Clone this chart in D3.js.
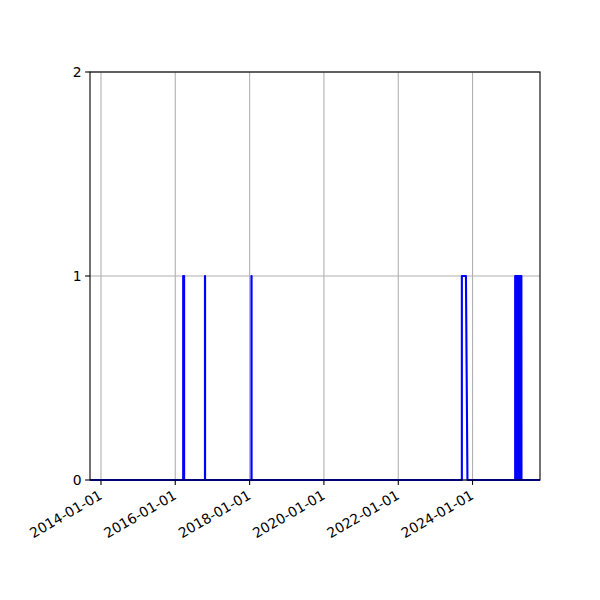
<!DOCTYPE html>
<html>
<head>
  <meta charset="utf-8">
  <script src="https://cdn.jsdelivr.net/npm/d3@7"></script>
  <style>
    body { margin: 0; background: #fff; }
    text { font-family: "DejaVu Sans", sans-serif; font-size: 13.9px; fill: #000; }
  </style>
</head>
<body>
<div id="chart"></div>
<script>
// sample times and 0/1 values
var dates = [
  "2013-09-15", "2016-03-19", "2016-03-19", "2016-03-28", "2016-03-28",
  "2016-10-19", "2016-10-19", "2016-10-20", "2016-10-20",
  "2018-01-19", "2018-01-19", "2018-01-20", "2018-01-20",
  "2023-09-18", "2023-09-18", "2023-10-28", "2023-11-12",
  "2025-02-23", "2025-02-23", "2025-02-26", "2025-03-01", "2025-03-04",
  "2025-03-07", "2025-03-10", "2025-03-13", "2025-03-16", "2025-03-19",
  "2025-03-22", "2025-03-25", "2025-03-28", "2025-03-31", "2025-04-03",
  "2025-04-06", "2025-04-09", "2025-04-12", "2025-04-15", "2025-04-18",
  "2025-04-21", "2025-04-23", "2025-04-25", "2025-04-26",
  "2025-10-25"
];
var values = [
  0, 0, 1, 1, 0,
  0, 1, 1, 0,
  0, 1, 1, 0,
  0, 1, 1, 0,
  0, 1, 0, 1, 0,
  1, 0, 1, 0, 1,
  0, 1, 0, 1, 0,
  1, 0, 1, 0, 1,
  0, 1, 1, 0,
  0
];
var xTickLabels = ["2014-01-01", "2016-01-01", "2018-01-01", "2020-01-01", "2022-01-01", "2024-01-01"];
var yTicks = [0, 1, 2];

var W = 600, H = 600;
var axL = 90, axR = 540, axT = 72, axB = 480;

var parse = d3.utcParse("%Y-%m-%d");
var data = dates.map(function (d, i) { return { t: parse(d), v: values[i] }; });

var svg = d3.select("#chart").append("svg")
  .attr("width", W).attr("height", H);

var x = d3.scaleUtc()
  .domain(d3.extent(data, function (d) { return d.t; }))
  .range([axL, axR]);
var y = d3.scaleLinear().domain([0, 2]).range([axB, axT]);

// grid
svg.append("g").selectAll("line")
  .data(xTickLabels)
  .enter().append("line")
    .attr("x1", function (d) { return x(parse(d)); })
    .attr("x2", function (d) { return x(parse(d)); })
    .attr("y1", axT).attr("y2", axB)
    .attr("stroke", "#b0b0b0").attr("stroke-width", 1.1);
svg.append("g").selectAll("line")
  .data(yTicks)
  .enter().append("line")
    .attr("x1", axL).attr("x2", axR)
    .attr("y1", function (d) { return y(d); })
    .attr("y2", function (d) { return y(d); })
    .attr("stroke", "#b0b0b0").attr("stroke-width", 1.1);

// data line
var line = d3.line()
  .x(function (d) { return x(d.t); })
  .y(function (d) { return y(d.v); });
svg.append("path")
  .datum(data)
  .attr("d", line)
  .attr("fill", "none")
  .attr("stroke", "#0000ff")
  .attr("stroke-width", 2.1)
  .attr("stroke-linejoin", "round");

// frame
svg.append("rect")
  .attr("x", axL).attr("y", axT)
  .attr("width", axR - axL).attr("height", axB - axT)
  .attr("fill", "none").attr("stroke", "#000").attr("stroke-width", 1.1);

// x ticks
var xt = svg.append("g").selectAll("g")
  .data(xTickLabels)
  .enter().append("g")
    .attr("transform", function (d) { return "translate(" + x(parse(d)) + "," + axB + ")"; });
xt.append("line").attr("y1", 0).attr("y2", 4.9).attr("stroke", "#000").attr("stroke-width", 1.1);
xt.append("text")
  .attr("text-anchor", "end")
  .attr("transform", "translate(-3,9) rotate(-30)")
  .attr("dy", "0.75em")
  .text(function (d) { return d; });

// y ticks
var yt = svg.append("g").selectAll("g")
  .data(yTicks)
  .enter().append("g")
    .attr("transform", function (d) { return "translate(" + axL + "," + y(d) + ")"; });
yt.append("line").attr("x1", 0).attr("x2", -4.9).attr("stroke", "#000").attr("stroke-width", 1.1);
yt.append("text")
  .attr("x", -8.5)
  .attr("dy", "0.35em")
  .attr("text-anchor", "end")
  .text(function (d) { return d; });
</script>
</body>
</html>
